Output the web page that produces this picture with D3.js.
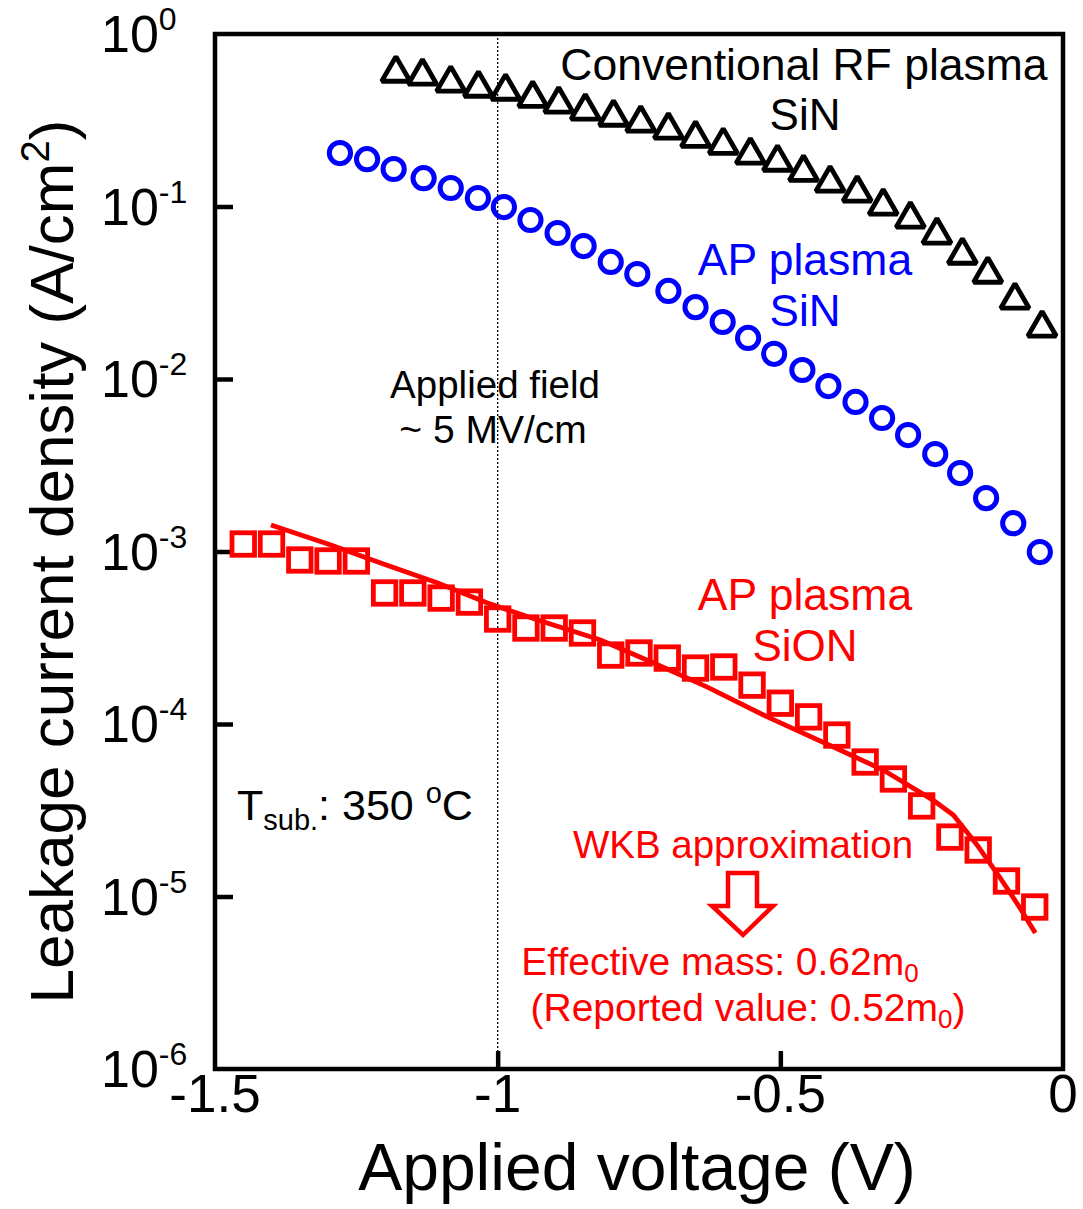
<!DOCTYPE html>
<html>
<head>
<meta charset="utf-8">
<script src="https://cdn.jsdelivr.net/npm/d3@7"></script>
<style>
  html, body { margin: 0; padding: 0; background: #fff; }
  svg text { font-family: "Liberation Sans", Arial, sans-serif; }
</style>
</head>
<body>
<svg id="chart" width="1083" height="1209"></svg>
<script>
// Conventional RF plasma SiN (triangles)
const rfVoltage = [-1.180, -1.133, -1.083, -1.034, -0.986, -0.938, -0.892, -0.845, -0.795, -0.747,
  -0.698, -0.650, -0.601, -0.553, -0.505, -0.459, -0.412, -0.364, -0.318, -0.270,
  -0.223, -0.178, -0.133, -0.085, -0.037];
const rfCurrent = [0.594, 0.571, 0.520, 0.486, 0.467, 0.425, 0.393, 0.358, 0.330, 0.305,
  0.278, 0.249, 0.227, 0.199, 0.181, 0.158, 0.137, 0.120, 0.1007, 0.0847,
  0.0684, 0.0523, 0.0406, 0.0287, 0.0198];

// AP plasma SiN (circles)
const apSinVoltage = [-1.279, -1.231, -1.184, -1.131, -1.083, -1.035, -0.989, -0.942, -0.894, -0.848,
  -0.800, -0.753, -0.698, -0.650, -0.602, -0.557, -0.511, -0.461, -0.415, -0.367,
  -0.320, -0.274, -0.226, -0.182, -0.136, -0.088, -0.041];
const apSinCurrent = [0.204, 0.188, 0.165, 0.146, 0.128, 0.112, 0.0993, 0.0835, 0.0702, 0.0590,
  0.0477, 0.0406, 0.0324, 0.0261, 0.0214, 0.0173, 0.0140, 0.01128, 0.00910, 0.00736,
  0.00594, 0.00473, 0.00367, 0.00285, 0.00204, 0.00146, 0.000993];

// AP plasma SiON (squares)
const apSionVoltage = [-1.45, -1.40, -1.35, -1.30, -1.25, -1.20, -1.15, -1.10, -1.05, -1.00,
  -0.95, -0.90, -0.85, -0.80, -0.75, -0.70, -0.65, -0.60, -0.55, -0.50,
  -0.45, -0.40, -0.35, -0.30, -0.25, -0.20, -0.15, -0.10, -0.05];
const apSionCurrent = [1.105e-3, 1.105e-3, 8.93e-4, 8.81e-4, 8.81e-4, 5.75e-4, 5.75e-4, 5.37e-4, 5.09e-4, 4.06e-4,
  3.60e-4, 3.60e-4, 3.37e-4, 2.51e-4, 2.58e-4, 2.41e-4, 2.11e-4, 2.14e-4, 1.68e-4, 1.32e-4,
  1.10e-4, 8.63e-5, 6.02e-5, 4.80e-5, 3.35e-5, 2.21e-5, 1.86e-5, 1.23e-5, 8.69e-6];

// WKB approximation fit for SiON (log10 of current density)
const wkbVoltage = [-1.401, -1.295, -1.207, -1.106, -1.018, -0.929, -0.818, -0.724, -0.629, -0.523,
  -0.406, -0.318, -0.230, -0.194, -0.152, -0.111, -0.076, -0.049];
const wkbLog = [-2.846, -2.962, -3.067, -3.183, -3.299, -3.397, -3.513, -3.646, -3.786, -3.959,
  -4.133, -4.267, -4.441, -4.528, -4.701, -4.893, -5.067, -5.212];

// Axis ticks
const xTicks = [-1.5, -1, -0.5, 0];
const xTickLabels = ["-1.5", "-1", "-0.5", "0"];
const yExponents = [0, -1, -2, -3, -4, -5, -6];

const BLACK = "#000", BLUE = "#0000ff", RED = "#ff0000";

const svg = d3.select("#chart");
svg.append("rect").attr("width", 1083).attr("height", 1209).attr("fill", "#fff");

const plot = { left: 215, right: 1063, top: 34, bottom: 1069 };
const x = d3.scaleLinear().domain([-1.5, 0]).range([plot.left, plot.right]);
const y = d3.scaleLog().domain([1e-6, 1]).range([plot.bottom, plot.top]);

// dotted guide at the 5 MV/cm field
svg.append("line")
  .attr("x1", x(-1)).attr("x2", x(-1))
  .attr("y1", plot.top).attr("y2", plot.bottom)
  .attr("stroke", BLACK).attr("stroke-width", 1.3)
  .attr("stroke-dasharray", "2,2");

// inward ticks
const tickLen = 18;
const xAxis = d3.axisBottom(x).tickValues(xTicks.slice(1, -1)).tickSizeInner(-tickLen).tickSizeOuter(0).tickFormat("");
svg.append("g").attr("transform", `translate(0,${plot.bottom})`).call(xAxis)
  .call(g => g.select(".domain").remove())
  .call(g => g.selectAll("line").attr("stroke", BLACK).attr("stroke-width", 4.5));
const yAxis = d3.axisLeft(y).tickValues(yExponents.slice(1, -1).map(e => Math.pow(10, e))).tickSizeInner(-tickLen).tickSizeOuter(0).tickFormat("");
svg.append("g").attr("transform", `translate(${plot.left},0)`).call(yAxis)
  .call(g => g.select(".domain").remove())
  .call(g => g.selectAll("line").attr("stroke", BLACK).attr("stroke-width", 4.5));

// frame
svg.append("rect")
  .attr("x", plot.left).attr("y", plot.top)
  .attr("width", plot.right - plot.left).attr("height", plot.bottom - plot.top)
  .attr("fill", "none").attr("stroke", BLACK).attr("stroke-width", 4.5);

// x tick labels
svg.append("g").selectAll("text").data(xTicks).join("text")
  .attr("x", d => x(d)).attr("y", plot.bottom + 43)
  .attr("text-anchor", "middle").attr("font-size", 53).attr("fill", BLACK)
  .text((d, i) => xTickLabels[i]);

// y tick labels: 10 with superscript exponent
const yl = svg.append("g").selectAll("text").data(yExponents).join("text")
  .attr("x", 101).attr("y", d => y(Math.pow(10, d)) + 18)
  .attr("font-size", 52).attr("fill", BLACK);
yl.append("tspan").text("10");
yl.append("tspan").attr("font-size", 32).attr("dy", -22).text(d => d === 0 ? "0" : "-" + Math.abs(d));

// axis titles
svg.append("text")
  .attr("x", 637).attr("y", 1190)
  .attr("text-anchor", "middle").attr("font-size", 66).attr("fill", BLACK)
  .text("Applied voltage (V)");
const yt = svg.append("text")
  .attr("transform", `translate(73,${(plot.top + plot.bottom) / 2 + 10}) rotate(-90)`)
  .attr("text-anchor", "middle").attr("font-size", 62).attr("fill", BLACK);
yt.append("tspan").text("Leakage current density (A/cm");
yt.append("tspan").attr("font-size", 40).attr("dy", -24).text("2");
yt.append("tspan").attr("dy", 24).text(")");

// WKB fit line
const fit = wkbVoltage.map((v, i) => [v, Math.pow(10, wkbLog[i])]);
svg.append("path").datum(fit)
  .attr("d", d3.line().x(d => x(d[0])).y(d => y(d[1])))
  .attr("fill", "none").attr("stroke", RED).attr("stroke-width", 4.8);

// SiON squares
const sq = 22.5;
svg.append("g").selectAll("rect").data(apSionVoltage).join("rect")
  .attr("x", d => x(d) - sq / 2)
  .attr("y", (d, i) => y(apSionCurrent[i]) - sq / 2)
  .attr("width", sq).attr("height", sq)
  .attr("fill", "none").attr("stroke", RED).attr("stroke-width", 4.8);

// SiN circles
svg.append("g").selectAll("circle").data(apSinVoltage).join("circle")
  .attr("cx", d => x(d)).attr("cy", (d, i) => y(apSinCurrent[i]))
  .attr("r", 10.6)
  .attr("fill", "none").attr("stroke", BLUE).attr("stroke-width", 5);

// RF triangles
const tri = d3.symbol().type(d3.symbolTriangle).size(350);
svg.append("g").selectAll("path").data(rfVoltage).join("path")
  .attr("transform", (d, i) => `translate(${x(d)},${y(rfCurrent[i])})`)
  .attr("d", tri)
  .attr("fill", "none").attr("stroke", BLACK).attr("stroke-width", 4.8)
  .attr("stroke-linejoin", "miter").attr("stroke-miterlimit", 1.6);

// annotations
function label(tx, ty, str, size, color, anchor) {
  return svg.append("text").attr("x", tx).attr("y", ty)
    .attr("font-size", size).attr("fill", color)
    .attr("text-anchor", anchor || "middle").text(str);
}
label(804, 80, "Conventional RF plasma", 44.5, BLACK);
label(805, 130, "SiN", 44, BLACK);
label(805, 275, "AP plasma", 44.5, BLUE);
label(805, 326, "SiN", 44, BLUE);
label(805, 610, "AP plasma", 44.5, RED);
label(805, 661, "SiON", 44, RED);
label(495, 398, "Applied field", 38.5, BLACK);
label(493, 443, "~ 5 MV/cm", 39, BLACK);
label(743, 858, "WKB approximation", 38.5, RED);

const ts = svg.append("text").attr("x", 237).attr("y", 820).attr("font-size", 43).attr("fill", BLACK);
ts.append("tspan").text("T");
ts.append("tspan").attr("font-size", 29).attr("dy", 10).text("sub.");
ts.append("tspan").attr("dy", -10).text(": 350 ");
ts.append("tspan").attr("font-size", 29).attr("dy", -17).text("o");
ts.append("tspan").attr("dy", 17).text("C");

const em = svg.append("text").attr("x", 720).attr("y", 975).attr("font-size", 39)
  .attr("fill", RED).attr("text-anchor", "middle");
em.append("tspan").text("Effective mass: 0.62m");
em.append("tspan").attr("font-size", 26).attr("dy", 7).text("0");
const rv = svg.append("text").attr("x", 748).attr("y", 1021).attr("font-size", 39)
  .attr("fill", RED).attr("text-anchor", "middle");
rv.append("tspan").text("(Reported value: 0.52m");
rv.append("tspan").attr("font-size", 26).attr("dy", 7).text("0");
rv.append("tspan").attr("dy", -7).text(")");

// hollow block arrow under the WKB label
const ax = 743, atop = 873;
const arrow = [[-15, 0], [14, 0], [14, 33], [30, 33], [0, 62], [-31, 33], [-15, 33]];
svg.append("path")
  .attr("d", "M" + arrow.map(p => [ax + p[0], atop + p[1]].join(",")).join("L") + "Z")
  .attr("fill", "#fff").attr("stroke", RED).attr("stroke-width", 4.5);
</script>
</body>
</html>
